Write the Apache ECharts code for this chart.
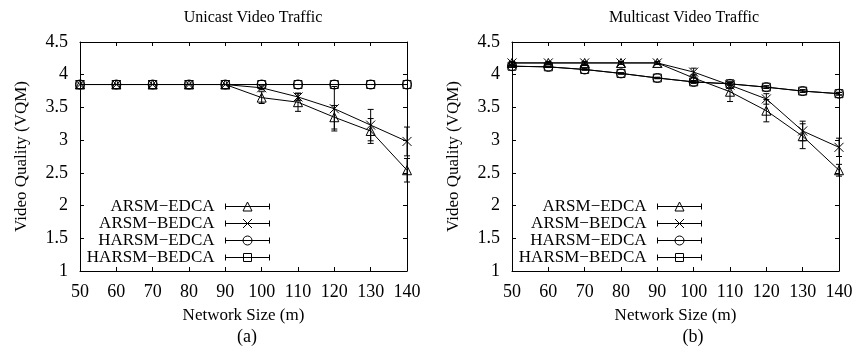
<!DOCTYPE html>
<html>
<head>
<meta charset="utf-8">
<script src="https://cdn.jsdelivr.net/npm/echarts@6/dist/echarts.min.js"></script>
<style>
html,body{margin:0;padding:0;background:#fff;}
#chart-container{width:856px;height:359px;}
</style>
</head>
<body>
<div id="chart-container"></div>
<script>
// network sizes (x axis)
var sizes = [50, 60, 70, 80, 90, 100, 110, 120, 130, 140];
var seriesNames = ['ARSM\u2212EDCA', 'ARSM\u2212BEDCA', 'HARSM\u2212EDCA', 'HARSM\u2212BEDCA'];

// (a) unicast video traffic
var uniArsmEdca      = [3.85, 3.85, 3.85, 3.85, 3.85, 3.65, 3.58, 3.35, 3.14, 2.54];
var uniArsmEdcaErr   = [0, 0, 0, 0, 0, 0.09, 0.14, 0.18, 0.19, 0.18];
var uniArsmBedca     = [3.85, 3.85, 3.85, 3.85, 3.85, 3.80, 3.66, 3.48, 3.23, 2.98];
var uniArsmBedcaErr  = [0, 0, 0, 0, 0, 0.03, 0.05, 0.34, 0.24, 0.22];
var uniHarsmEdca     = [3.85, 3.85, 3.85, 3.85, 3.85, 3.85, 3.85, 3.85, 3.85, 3.85];
var uniHarsmEdcaErr  = [0, 0, 0, 0, 0, 0, 0, 0, 0, 0];
var uniHarsmBedca    = [3.85, 3.85, 3.85, 3.85, 3.85, 3.85, 3.85, 3.85, 3.85, 3.85];
var uniHarsmBedcaErr = [0, 0, 0, 0, 0, 0, 0, 0, 0, 0];

// (b) multicast video traffic
var mulArsmEdca      = [4.18, 4.18, 4.18, 4.18, 4.18, 3.95, 3.74, 3.45, 3.06, 2.54];
var mulArsmEdcaErr   = [0.02, 0.02, 0.02, 0.02, 0.02, 0.05, 0.15, 0.17, 0.19, 0.09];
var mulArsmBedca     = [4.18, 4.18, 4.18, 4.18, 4.18, 4.04, 3.84, 3.63, 3.14, 2.89];
var mulArsmBedcaErr  = [0.02, 0.02, 0.02, 0.02, 0.02, 0.06, 0.05, 0.08, 0.15, 0.14];
var mulHarsmEdca     = [4.13, 4.12, 4.08, 4.02, 3.95, 3.89, 3.86, 3.81, 3.75, 3.71];
var mulHarsmEdcaErr  = [0.01, 0.01, 0.01, 0.01, 0.01, 0.02, 0.02, 0.02, 0.02, 0.02];
var mulHarsmBedca    = [4.13, 4.12, 4.08, 4.02, 3.95, 3.89, 3.86, 3.81, 3.75, 3.71];
var mulHarsmBedcaErr = [0.01, 0.01, 0.01, 0.01, 0.01, 0.02, 0.02, 0.02, 0.02, 0.02];

var FONT = 'Liberation Serif';
var symbols = ['triangle', 'path://M0,0L10,10M10,0L0,10', 'circle', 'rect'];
var symbolSizes = [9, 9, 9, 8];

// legend keys: error-bar style line with the marker in the middle
var keyBase = 'M0,4.5L44,4.5M0,1.5L0,7.5M44,1.5L44,7.5';
var keyMarks = [
    'M17.5,9L22,0L26.5,9Z',
    'M17.5,0L26.5,9M26.5,0L17.5,9',
    'M26.5,4.5A4.5,4.5,0,1,1,17.5,4.5A4.5,4.5,0,1,1,26.5,4.5Z',
    'M18,0.5L26,0.5L26,8.5L18,8.5Z'
];

function pairs(vals) {
    return sizes.map(function (x, i) { return [x, vals[i]]; });
}
function errData(vals, errs) {
    var out = [];
    for (var i = 0; i < sizes.length; i++) {
        if (errs[i] > 0) out.push([sizes[i], vals[i] - errs[i], vals[i] + errs[i]]);
    }
    return out;
}
function renderErr(params, api) {
    var top = api.coord([api.value(0), api.value(2)]);
    var bot = api.coord([api.value(0), api.value(1)]);
    var w = 3;
    var st = { stroke: '#000', lineWidth: 1 };
    return {
        type: 'group',
        children: [
            { type: 'line', shape: { x1: top[0], y1: top[1], x2: bot[0], y2: bot[1] }, style: st },
            { type: 'line', shape: { x1: top[0] - w, y1: top[1], x2: top[0] + w, y2: top[1] }, style: st },
            { type: 'line', shape: { x1: bot[0] - w, y1: bot[1], x2: bot[0] + w, y2: bot[1] }, style: st }
        ]
    };
}

function lineSeries(k, vals, axis) {
    return {
        type: 'line',
        name: seriesNames[k],
        xAxisIndex: axis, yAxisIndex: axis,
        data: pairs(vals),
        symbol: symbols[k],
        symbolSize: symbolSizes[k],
        lineStyle: { color: '#000', width: 1 },
        itemStyle: { color: 'rgba(0,0,0,0)', borderColor: '#000', borderWidth: 1 },
        z: 3
    };
}
function errSeries(k, vals, errs, axis) {
    return {
        type: 'custom',
        name: 'err' + axis + '-' + k,
        xAxisIndex: axis, yAxisIndex: axis,
        data: errData(vals, errs),
        encode: { x: 0, y: [1, 2] },
        renderItem: renderErr,
        z: 2
    };
}

function xAxisDef(grid, pos) {
    return {
        type: 'value', gridIndex: grid, position: pos,
        min: 50, max: 140, interval: 10,
        axisLine: { onZero: false, lineStyle: { color: '#000', width: 1 } },
        axisTick: { inside: true, length: 4, lineStyle: { color: '#000' } },
        axisLabel: { show: pos === 'bottom', margin: 12, color: '#000', fontFamily: FONT, fontSize: 18 },
        splitLine: { show: false },
        name: pos === 'bottom' ? 'Network Size (m)' : '',
        nameLocation: 'middle', nameGap: 36,
        nameTextStyle: { color: '#000', fontFamily: FONT, fontSize: 17 }
    };
}
function yAxisDef(grid, pos) {
    return {
        type: 'value', gridIndex: grid, position: pos,
        min: 1, max: 4.5, interval: 0.5,
        axisLine: { onZero: false, lineStyle: { color: '#000', width: 1 } },
        axisTick: { inside: true, length: 4, lineStyle: { color: '#000' } },
        axisLabel: { show: pos === 'left', margin: 12, color: '#000', fontFamily: FONT, fontSize: 18 },
        splitLine: { show: false },
        name: pos === 'left' ? 'Video Quality (VQM)' : '',
        nameLocation: 'middle', nameGap: 50,
        nameTextStyle: { color: '#000', fontFamily: FONT, fontSize: 17 }
    };
}

function legendDef(right) {
    return {
        orient: 'vertical', align: 'right',
        right: right, top: 198, padding: 0,
        itemGap: 0, itemWidth: 44, itemHeight: 9,
        data: seriesNames.map(function (n, k) {
            return { name: n, icon: 'path://' + keyBase + keyMarks[k] };
        }),
        itemStyle: { color: 'rgba(0,0,0,0)', borderColor: '#000', borderWidth: 1 },
        lineStyle: { color: '#000', width: 1 },
        textStyle: { color: '#000', fontFamily: FONT, fontSize: 17, lineHeight: 17, padding: [0, 6, 0, 0] }
    };
}

function graphicText(x, y, text, size) {
    return {
        type: 'text', x: x, y: y,
        style: { text: text, fill: '#000', font: size + 'px "' + FONT + '"', textAlign: 'center', textVerticalAlign: 'middle' }
    };
}

var uniSets = [[uniArsmEdca, uniArsmEdcaErr], [uniArsmBedca, uniArsmBedcaErr], [uniHarsmEdca, uniHarsmEdcaErr], [uniHarsmBedca, uniHarsmBedcaErr]];
var mulSets = [[mulArsmEdca, mulArsmEdcaErr], [mulArsmBedca, mulArsmBedcaErr], [mulHarsmEdca, mulHarsmEdcaErr], [mulHarsmBedca, mulHarsmBedcaErr]];

var series = [];
uniSets.forEach(function (s, k) { series.push(errSeries(k, s[0], s[1], 0)); });
mulSets.forEach(function (s, k) { series.push(errSeries(k, s[0], s[1], 2)); });
uniSets.forEach(function (s, k) { series.push(lineSeries(k, s[0], 0)); });
mulSets.forEach(function (s, k) { series.push(lineSeries(k, s[0], 2)); });

var option = {
    animation: false,
    backgroundColor: '#fff',
    grid: [
        { left: 80, right: 449, top: 42, bottom: 88 },
        { left: 512, right: 17, top: 42, bottom: 88 }
    ],
    xAxis: [xAxisDef(0, 'bottom'), xAxisDef(0, 'top'), xAxisDef(1, 'bottom'), xAxisDef(1, 'top')],
    yAxis: [yAxisDef(0, 'left'), yAxisDef(0, 'right'), yAxisDef(1, 'left'), yAxisDef(1, 'right')],
    legend: [legendDef(586), legendDef(154)],
    graphic: [
        graphicText(253, 18, 'Unicast Video Traffic', 16),
        graphicText(684, 18, 'Multicast Video Traffic', 16),
        graphicText(247, 337, '(a)', 18),
        graphicText(693, 337, '(b)', 18)
    ],
    series: series
};

var myChart = echarts.init(document.getElementById('chart-container'));
myChart.setOption(option);
</script>
</body>
</html>
